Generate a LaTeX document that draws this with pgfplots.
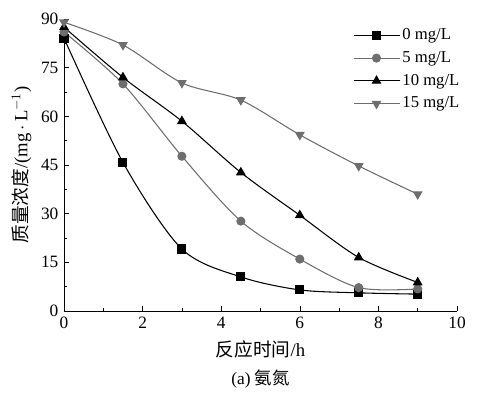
\documentclass[border=0pt]{standalone}
\usepackage{fontspec}
\setmainfont{Liberation Serif}
\newfontfamily\cjk{Noto Sans CJK SC}
\usepackage{pgfplots}
\pgfplotsset{compat=1.18}
\definecolor{grayline}{HTML}{6E6E6E}
\begin{document}
\fontsize{12pt}{14pt}\selectfont
\begin{tikzpicture}
\begin{axis}[
  scale only axis,
  width=294.75pt, height=219pt,
  xmin=0, xmax=10, ymin=0, ymax=90,
  axis x line*=bottom, axis y line*=left,
  xtick={0,2,...,10}, ytick={0,15,...,90},
  minor xtick={1,3,...,9}, minor ytick={7.5,22.5,...,82.5},
  tick align=inside,
  major tick length=4pt, minor tick length=2.5pt,
  every tick/.style={black, thin},
  tick label style={font=\fontsize{13pt}{15pt}\selectfont},
  /pgf/number format/assume math mode=true,
  xlabel={{\cjk 反应时间}/h},
  ylabel={{\cjk 质量浓度}/(mg\,$\cdot$\,L$^{-1}$)},
  label style={font=\fontsize{14pt}{16pt}\selectfont},
  xlabel style={yshift=-1pt},
  ylabel style={yshift=-1pt},
  clip=false,
  legend style={draw=none, fill=none, at={([yshift=-3pt]rel axis cs:0.725,1.0)}, anchor=north west,
    font=\fontsize{12.5pt}{14pt}\selectfont, row sep=3pt},
  legend cell align=left,
  legend image code/.code={
    \draw[mark repeat=2,mark phase=2] plot coordinates {(0cm,0cm) (0.6cm,0cm) (1.2cm,0cm)};
  },
  every axis plot/.append style={thick, smooth, mark size=3pt},
]
\addplot[black, mark=square*] coordinates {(0,84.1) (1.5,45.8) (3,19.1) (4.5,10.5) (6,6.5) (7.5,5.6) (9,5.2)};
\addlegendentry{0 mg/L}
\addplot[grayline, mark=*, mark options={fill=grayline}] coordinates {(0,86) (1.5,70) (3,47.7) (4.5,27.7) (6,16) (7.5,7.2) (9,6.8)};
\addlegendentry{5 mg/L}
\addplot[black, mark=triangle*, mark size=3.5pt] coordinates {(0,87.5) (1.5,72) (3,58.5) (4.5,42.7) (6,29.5) (7.5,16.5) (9,8.8)};
\addlegendentry{10 mg/L}
\addplot[grayline, mark=triangle*, mark options={rotate=180, fill=grayline}, mark size=3.5pt] coordinates {(0,89) (1.5,82) (3,70.3) (4.5,65) (6,54.3) (7.5,44.7) (9,36)};
\addlegendentry{15 mg/L}
\path ([shift={(-48pt,-63.75pt)}]rel axis cs:0,0) rectangle ([shift={(16.5pt,14.25pt)}]rel axis cs:1,1);
\node[anchor=base, font=\fontsize{13pt}{15pt}\selectfont] at ([yshift=-55pt]rel axis cs:0.5,0) {(a) {\cjk 氨氮}};
\end{axis}
\end{tikzpicture}
\end{document}
